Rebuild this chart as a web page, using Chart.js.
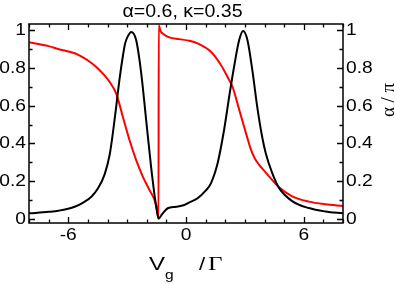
<!DOCTYPE html>
<html lang="en">
<head>
  <meta charset="UTF-8">
  <title>α=0.6, κ=0.35</title>
  <script src="https://cdn.jsdelivr.net/npm/chart.js"></script>
  <style>
    html, body { margin: 0; padding: 0; background: #fff; }
    #wrap { width: 395px; height: 284px; }
  </style>
</head>
<body>
<div id="wrap"><canvas id="plot"></canvas></div>

<script>
// gate voltage / Gamma, conductance curve (black)
const blackX = [-8.0, -7.0, -6.5, -5.67, -5.2, -4.82, -4.5, -4.15, -3.89, -3.72, -3.55, -3.4, -3.22, -3.1, -2.96, -2.79,
  -2.54, -2.28, -2.03, -1.78, -1.52, -1.39, -1.19, -0.93, -0.51, -0.09, 0.17, 0.59, 1.0, 1.27, 1.61, 1.94,
  2.2, 2.45, 2.71, 2.91, 3.13, 3.38, 3.63, 3.89, 4.06, 4.4, 4.74, 5.41, 6.26, 7.1, 8.0];
const blackY = [0.030, 0.038, 0.044, 0.065, 0.09, 0.118, 0.16, 0.235, 0.34, 0.46, 0.60, 0.73, 0.86, 0.93, 0.968, 0.99,
  0.947, 0.77, 0.524, 0.277, 0.065, 0.003, 0.030, 0.057, 0.065, 0.074, 0.088, 0.11, 0.15, 0.189, 0.295, 0.471,
  0.647, 0.806, 0.947, 0.995, 0.947, 0.788, 0.594, 0.43, 0.35, 0.242, 0.165, 0.095, 0.058, 0.040, 0.030];

// phase alpha / pi (red)
const redX = [-8.0, -7.0, -6.52, -5.67, -5.25, -4.82, -4.49, -4.15, -3.89, -3.55, -3.22, -2.88, -2.54, -2.2, -1.86, -1.52, -1.40,
  -1.39, -1.3, -1.19, -0.85, -0.34, 0.17, 0.59, 1.27, 1.78, 2.11, 2.37, 2.62, 2.96, 3.13, 3.3, 3.5, 3.72, 3.97, 4.23,
  4.74, 5.41, 6.26, 7.1, 8.0];
const redY = [0.935, 0.915, 0.90, 0.877, 0.855, 0.826, 0.797, 0.76, 0.725, 0.662, 0.541, 0.418, 0.312, 0.224, 0.153, 0.074, 0.0,
  1.025, 0.995, 0.982, 0.961, 0.952, 0.943, 0.929, 0.885, 0.815, 0.753, 0.70, 0.612, 0.488, 0.428, 0.37, 0.322, 0.288, 0.257, 0.226,
  0.168, 0.12, 0.092, 0.078, 0.069];

const xTicks = [-6, 0, 6];
const yTicks = [0, 0.2, 0.4, 0.6, 0.8, 1];
const yTickLabels = ['0', '0.2', '0.4', '0.6', '0.8', '1'];

const SANS = '"Liberation Sans", Arial, sans-serif';
const SERIF = '"Liberation Serif", "Times New Roman", serif';
const STRETCH = 1.2; // the figure is a bit wider than tall

function pts(xs, ys) {
  return xs.map((x, i) => ({ x: x, y: ys[i] }));
}

// text with a horizontal stretch; sx given or fitted to a target width
function text(c, s, x, y, align, sx) {
  const w = c.measureText(s).width * sx;
  let x0 = x;
  if (align === 'center') x0 = x - w / 2;
  if (align === 'right') x0 = x - w;
  c.save();
  c.translate(x0, y);
  c.scale(sx, 1);
  c.textAlign = 'left';
  c.fillText(s, 0, 0);
  c.restore();
  return w;
}

function fitted(c, s, width) {
  return width / c.measureText(s).width;
}

// frame, inward ticks, labels and titles
const framePlugin = {
  id: 'frame',
  afterDraw(chart) {
    const c = chart.ctx;
    const a = chart.chartArea;
    const xs = chart.scales.x;
    const ys = chart.scales.y;
    c.save();
    c.strokeStyle = '#000';
    c.lineWidth = 1.3;

    // minor + major ticks on all four sides
    c.beginPath();
    for (let v = -8; v <= 8; v++) {
      const px = Math.round(xs.getPixelForValue(v)) + 0.5;
      const len = xTicks.includes(v) ? 6 : 3.5;
      c.moveTo(px, a.bottom); c.lineTo(px, a.bottom - len);
      c.moveTo(px, a.top); c.lineTo(px, a.top + len);
    }
    for (let k = 0; k <= 10; k++) {
      const py = Math.round(ys.getPixelForValue(k / 10)) + 0.5;
      const len = (k % 2 === 0) ? 6 : 3.5;
      c.moveTo(a.left, py); c.lineTo(a.left + len, py);
      c.moveTo(a.right, py); c.lineTo(a.right - len, py);
    }
    c.stroke();

    c.lineWidth = 1.5;
    c.strokeRect(a.left, a.top, a.right - a.left, a.bottom - a.top);

    c.fillStyle = '#000';
    c.font = '16px ' + SANS;
    c.textBaseline = 'middle';
    yTicks.forEach((v, i) => text(c, yTickLabels[i], a.left - 3, ys.getPixelForValue(v) + 0.5, 'right', STRETCH));
    yTicks.forEach((v, i) => text(c, yTickLabels[i], a.right + 3, ys.getPixelForValue(v) + 0.5, 'left', STRETCH));
    c.textBaseline = 'alphabetic';
    xTicks.forEach(v => text(c, String(v), xs.getPixelForValue(v), a.bottom + 17, 'center', STRETCH));

    // title
    c.font = '17.5px ' + SANS;
    const tt = 'α=0.6, κ=0.35';
    text(c, tt, 122.5, 16.5, 'left', fitted(c, tt, 120));

    // x title: V_g / Γ
    c.font = '18.5px ' + SANS;
    text(c, 'V', 149, 270, 'left', fitted(c, 'V', 16));
    c.font = '13px ' + SANS;
    text(c, 'g', 165, 279, 'left', STRETCH);
    c.font = '18.5px ' + SANS;
    text(c, '/', 199, 270, 'left', STRETCH);
    c.font = '19.5px ' + SERIF;
    text(c, 'Γ', 208, 270, 'left', fitted(c, 'Γ', 14.5));

    // right y title, rotated
    c.translate(389.5, 100);
    c.rotate(-Math.PI / 2);
    c.textBaseline = 'middle';
    c.font = '19px ' + SERIF;
    text(c, 'α / π', 0, 0, 'center', fitted(c, 'α / π', 34));
    c.restore();
  }
};

new Chart(document.getElementById('plot'), {
  type: 'scatter',
  data: {
    datasets: [
      {
        label: 'G',
        data: pts(blackX, blackY),
        showLine: true,
        borderColor: '#000',
        borderWidth: 2,
        pointRadius: 0,
        cubicInterpolationMode: 'monotone'
      },
      {
        label: 'alpha/pi',
        data: pts(redX, redY),
        showLine: true,
        borderColor: '#ff0000',
        borderWidth: 2,
        pointRadius: 0,
        cubicInterpolationMode: 'monotone'
      }
    ]
  },
  plugins: [framePlugin],
  options: {
    responsive: true,
    maintainAspectRatio: false,
    animation: false,
    layout: { padding: { left: 29, right: 52, top: 24, bottom: 61 } },
    plugins: {
      legend: { display: false },
      tooltip: { enabled: false },
      title: { display: false }
    },
    scales: {
      x: { type: 'linear', display: false, min: -8, max: 8 },
      y: { type: 'linear', display: false, min: -0.021, max: 1.032 }
    }
  }
});
</script>
</body>
</html>
